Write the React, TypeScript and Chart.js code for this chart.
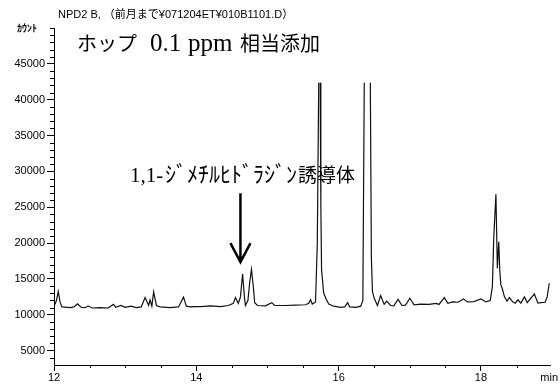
import React, { useEffect, useRef } from "react";
import { Chart, registerables } from "chart.js";

Chart.register(...registerables);

// retention time (min)
const TIME = [
  12.0, 12.035, 12.06, 12.085, 12.11, 12.23, 12.28, 12.33, 12.38, 12.44, 12.48, 12.535, 12.65, 12.76,
  12.835, 12.87, 12.94, 13.0, 13.085, 13.155, 13.225, 13.28, 13.33, 13.35, 13.375, 13.4, 13.44, 13.49,
  13.63, 13.75, 13.82, 13.86, 13.915, 13.99, 14.06, 14.2, 14.34, 14.45, 14.52, 14.55, 14.59, 14.62,
  14.65, 14.676, 14.69, 14.725, 14.75, 14.775, 14.8, 14.82, 14.86, 14.97, 15.06, 15.1, 15.25, 15.39,
  15.535, 15.58, 15.605, 15.63, 15.675, 15.7, 15.72, 15.74, 15.75, 15.76, 15.79, 15.82, 15.86, 15.93,
  16.03, 16.085, 16.127, 16.155, 16.24, 16.31, 16.34, 16.36, 16.445, 16.46, 16.475, 16.5, 16.545,
  16.59, 16.64, 16.675, 16.73, 16.775, 16.835, 16.89, 16.94, 17.0, 17.06, 17.155, 17.27, 17.37, 17.41,
  17.485, 17.535, 17.6, 17.675, 17.755, 17.81, 17.9, 18.0, 18.07, 18.13, 18.16, 18.18, 18.21, 18.23,
  18.25, 18.265, 18.28, 18.295, 18.33, 18.365, 18.4, 18.445, 18.48, 18.52, 18.56, 18.61, 18.65, 18.69,
  18.75, 18.8, 18.845, 18.9, 18.93, 18.96,
];

// detector counts (peaks above the display ceiling are clipped)
const COUNT = [
  11200, 12000, 13250, 11800, 11100, 11000, 11100, 11530, 11050, 11000, 11250, 10950, 11000, 10950,
  11450, 11050, 11300, 11050, 11200, 11000, 11100, 12400, 11300, 12100, 11200, 13200, 11300, 11100,
  11000, 11100, 12460, 11200, 11100, 11150, 11150, 11250, 11150, 11300, 11600, 12400, 11600, 12500,
  15700, 12500, 11300, 12000, 14500, 16350, 14000, 11700, 11300, 11250, 11700, 11300, 11300, 11350,
  11400, 11600, 12100, 11500, 11800, 20000, 42360, 42360, 25000, 16250, 13000, 12300, 11500, 11200,
  11050, 11100, 11700, 11100, 11050, 11200, 12000, 42360, 42360, 18000, 13240, 12300, 11300,
  12680, 11450, 11900, 11300, 11250, 12150, 11300, 11350, 12310, 11400, 11500, 11450, 11600, 11450,
  12400, 11600, 11800, 11750, 12220, 11800, 11850, 12220, 11800, 12000, 13930, 20880, 26800, 16480,
  20180, 16000, 14170, 13800, 12500, 11900, 12400, 11800, 11620, 12100, 11620, 12500, 11700, 12200,
  12900, 11620, 11700, 11750, 12500, 14400,
];

const CEILING = 42360;
const X_MIN = 12;
const X_MAX = 18.97;
const Y_MIN = 3000;
const Y_MAX = 50000;
const X_TICKS = [12, 14, 16, 18];
const X_MINOR = [12.5, 13, 13.5, 14.5, 15, 15.5, 16.5, 17, 17.5, 18.5];
const Y_TICKS = [5000, 10000, 15000, 20000, 25000, 30000, 35000, 40000, 45000];

const HEADER = "NPD2 B, （前月まで¥071204ET¥010B1101.D）";
const Y_UNIT = "ｶｳﾝﾄ";
const X_UNIT = "min";
const SAMPLE_PARTS = ["ホップ", "0.1", "ppm", "相当添加"];
const NOTE_PARTS = ["1,1-", "ｼﾞﾒﾁﾙﾋﾄﾞﾗｼﾞﾝ", "誘導体"];
const ARROW_T = 14.62;
const ARROW_FROM = 26950;
const ARROW_TO = 17350;

const SANS = '"Liberation Sans", "Noto Sans CJK JP", sans-serif';
const SERIF = '"Liberation Serif", "Noto Sans CJK JP", serif';

const decor = {
  id: "decor",
  afterDraw(chart: any) {
    const { ctx, scales } = chart;
    const xs = scales.x;
    const ys = scales.y;
    const area = chart.chartArea;
    ctx.save();
    ctx.strokeStyle = "#000";
    ctx.lineWidth = 1;
    // minor ticks
    ctx.beginPath();
    for (let v = 4000; v <= Y_MAX; v += 1000) {
      if (v % 5000 === 0 && v !== Y_MAX) continue;
      const y = Math.round(ys.getPixelForValue(v)) + 0.5;
      ctx.moveTo(area.left - 4, y);
      ctx.lineTo(area.left, y);
    }
    for (const t of X_MINOR) {
      const x = Math.round(xs.getPixelForValue(t)) + 0.5;
      ctx.moveTo(x, area.bottom);
      ctx.lineTo(x, area.bottom + 3);
    }
    ctx.stroke();

    ctx.fillStyle = "#000";
    ctx.textBaseline = "middle";
    ctx.textAlign = "left";
    ctx.font = "11px " + SANS;
    ctx.fillText(HEADER, 58, 15);
    ctx.font = "bold 10px " + SANS;
    ctx.fillText(Y_UNIT, 17, 29);
    ctx.font = "11px " + SANS;
    ctx.textAlign = "right";
    ctx.fillText(X_UNIT, 558, 378);

    ctx.textAlign = "left";
    ctx.textBaseline = "alphabetic";
    ctx.font = "20px " + SERIF;
    ctx.fillText(SAMPLE_PARTS[0], 77, 51);
    ctx.font = "25px " + SERIF;
    ctx.fillText(SAMPLE_PARTS[1], 150, 51);
    ctx.fillText(SAMPLE_PARTS[2], 188, 51);
    ctx.font = "20px " + SERIF;
    ctx.fillText(SAMPLE_PARTS[3], 240, 51);

    ctx.font = "21px " + SERIF;
    ctx.fillText(NOTE_PARTS[0], 130, 182);
    ctx.font = "22px " + SERIF;
    ctx.fillText(NOTE_PARTS[1], 165, 182);
    ctx.font = "19px " + SERIF;
    ctx.fillText(NOTE_PARTS[2], 298, 182);

    // arrow
    const ax = xs.getPixelForValue(ARROW_T);
    const y0 = ys.getPixelForValue(ARROW_FROM);
    const y1 = ys.getPixelForValue(ARROW_TO);
    ctx.lineWidth = 2.5;
    ctx.beginPath();
    ctx.moveTo(ax, y0);
    ctx.lineTo(ax, y1 - 1);
    ctx.moveTo(ax - 10, y1 - 19);
    ctx.lineTo(ax, y1);
    ctx.lineTo(ax + 10, y1 - 19);
    ctx.stroke();
    ctx.restore();
  },
};

export default function App() {
  const ref = useRef<HTMLCanvasElement>(null);
  useEffect(() => {
    if (!ref.current) return;
    const chart = new Chart(ref.current, {
      type: "line",
      data: {
        datasets: [
          {
            data: TIME.map((t, i) => ({ x: t, y: COUNT[i] })),
            borderColor: "#111",
            borderWidth: 1.2,
            pointRadius: 0,
            tension: 0,
            segment: {
              borderColor: (c: any) =>
                c.p0.parsed.y >= CEILING && c.p1.parsed.y >= CEILING ? "rgba(0,0,0,0)" : "#111",
            },
          },
        ],
      },
      plugins: [decor],
      options: {
        responsive: false,
        animation: false,
        layout: { padding: { left: 0, right: 10, top: 28, bottom: 0 } },
        plugins: { legend: { display: false }, tooltip: { enabled: false } },
        scales: {
          x: {
            type: "linear",
            min: X_MIN,
            max: X_MAX,
            afterBuildTicks: (s: any) => {
              s.ticks = X_TICKS.map((v) => ({ value: v }));
            },
            afterFit: (s: any) => {
              s.height = 20;
            },
            border: { display: true, color: "#000", width: 1 },
            grid: { drawOnChartArea: false, drawTicks: true, tickLength: 6, tickColor: "#000" },
            ticks: {
              autoSkip: false,
              padding: 0,
              maxRotation: 0,
              color: "#000",
              font: { family: SANS, size: 11 },
              callback: (v: any) => String(v),
            },
          },
          y: {
            type: "linear",
            min: Y_MIN,
            max: Y_MAX,
            afterBuildTicks: (s: any) => {
              s.ticks = Y_TICKS.map((v) => ({ value: v }));
            },
            afterFit: (s: any) => {
              s.width = 54;
            },
            border: { display: true, color: "#000", width: 1 },
            grid: { drawOnChartArea: false, drawTicks: true, tickLength: 7, tickColor: "#000" },
            ticks: {
              autoSkip: false,
              padding: 2,
              color: "#000",
              font: { family: SANS, size: 11 },
              callback: (v: any) => String(v),
            },
          },
        },
      },
    });
    return () => chart.destroy();
  }, []);
  return (
    <div style={{ position: "fixed", left: 0, top: 0, width: 560, height: 385, background: "#fff" }}>
      <canvas ref={ref} width={560} height={385} style={{ display: "block" }} />
    </div>
  );
}
